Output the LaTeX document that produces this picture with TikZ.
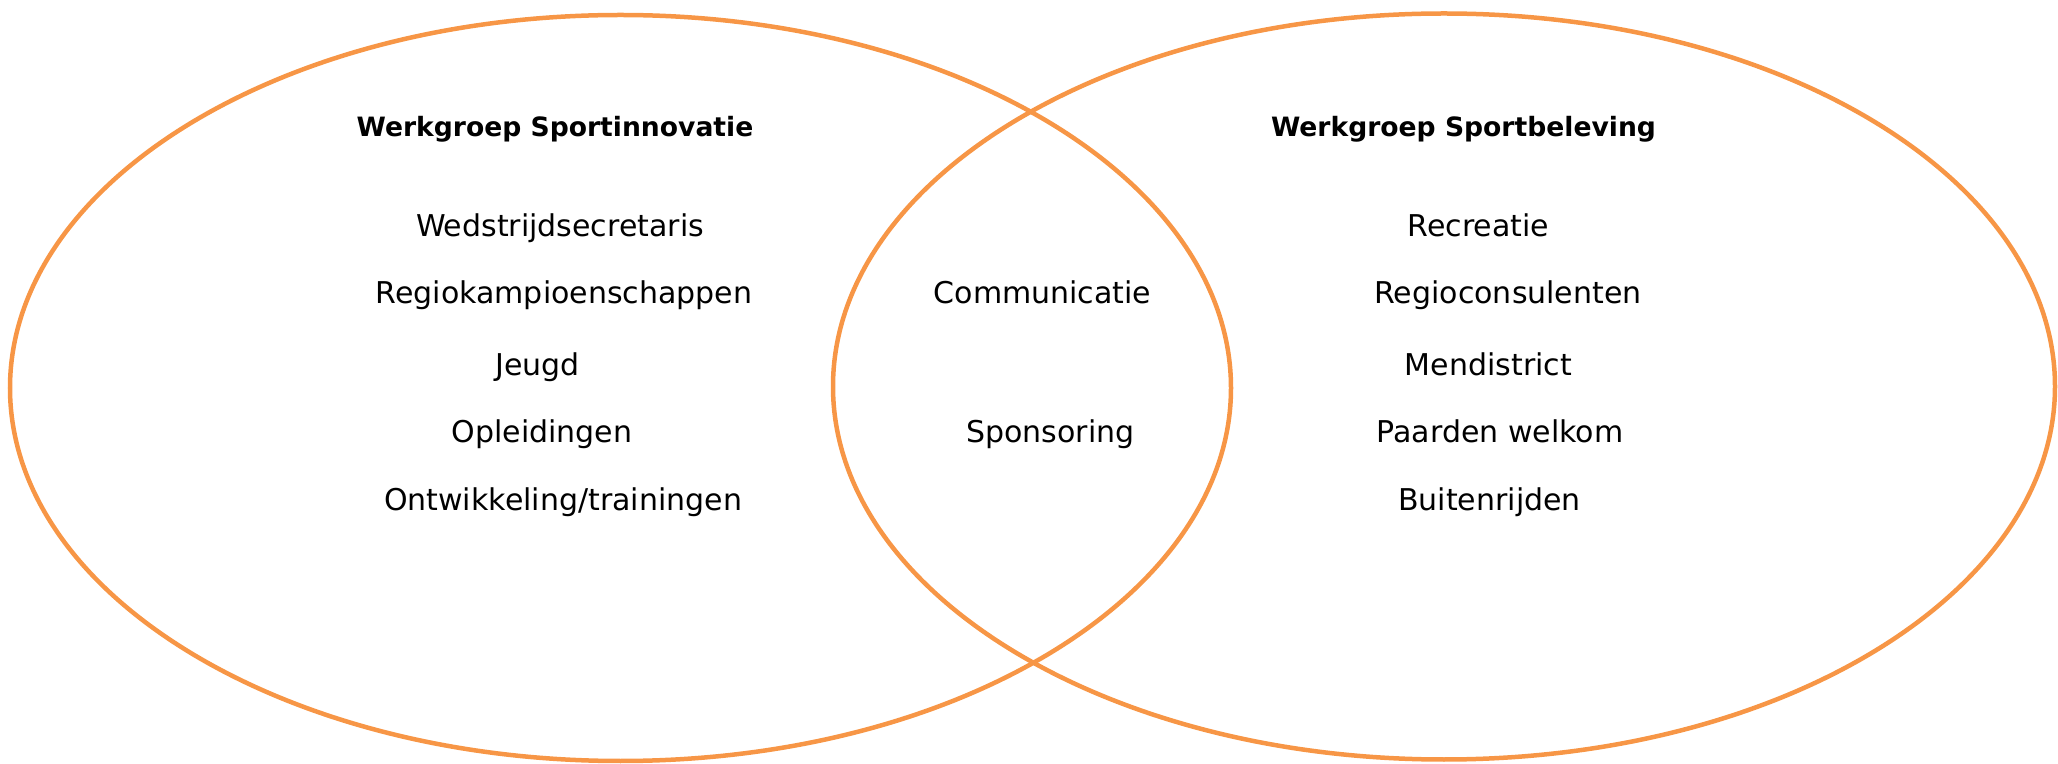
\documentclass[tikz,border=0pt]{standalone}
\usepackage{fontspec}
\setmainfont{DejaVu Sans}
\definecolor{vorange}{HTML}{F79646}
\tikzset{
  venn/.style={draw=vorange, line width=2.25pt},
  item/.style={anchor=base, inner sep=0pt, font=\fontsize{15}{18}\selectfont},
  head/.style={anchor=base, inner sep=0pt, font=\fontsize{13.3}{16}\selectfont\bfseries},
}
\begin{document}
\begin{tikzpicture}[x=0.5pt,y=-0.5pt]
\useasboundingbox (0,0) rectangle (2058,764);
\draw[venn] (620.5,388) ellipse [x radius=610.5, y radius=373];
\draw[venn] (1444,386.5) ellipse [x radius=611, y radius=373];

\node[head] (h1) at (555,137) {Werkgroep Sportinnovatie};
\node[item] (l1) at (560,237) {Wedstrijdsecretaris};
\node[item] (l2) at (564,304) {Regiokampioenschappen};
\node[item] (l3) at (537.5,376) {Jeugd};
\node[item] (l4) at (542,443) {Opleidingen};
\node[item] (l5) at (563,511) {Ontwikkeling/trainingen};

\node[item] (m1) at (1042.5,304) {Communicatie};
\node[item] (m2) at (1050.5,443) {Sponsoring};

\node[head] (h2) at (1463.5,137) {Werkgroep Sportbeleving};
\node[item] (r1) at (1478.5,237) {Recreatie};
\node[item] (r2) at (1508,304) {Regioconsulenten};
\node[item] (r3) at (1488.5,376) {Mendistrict};
\node[item] (r4) at (1500,443) {Paarden welkom};
\node[item] (r5) at (1489.5,511) {Buitenrijden};
\end{tikzpicture}
\end{document}
